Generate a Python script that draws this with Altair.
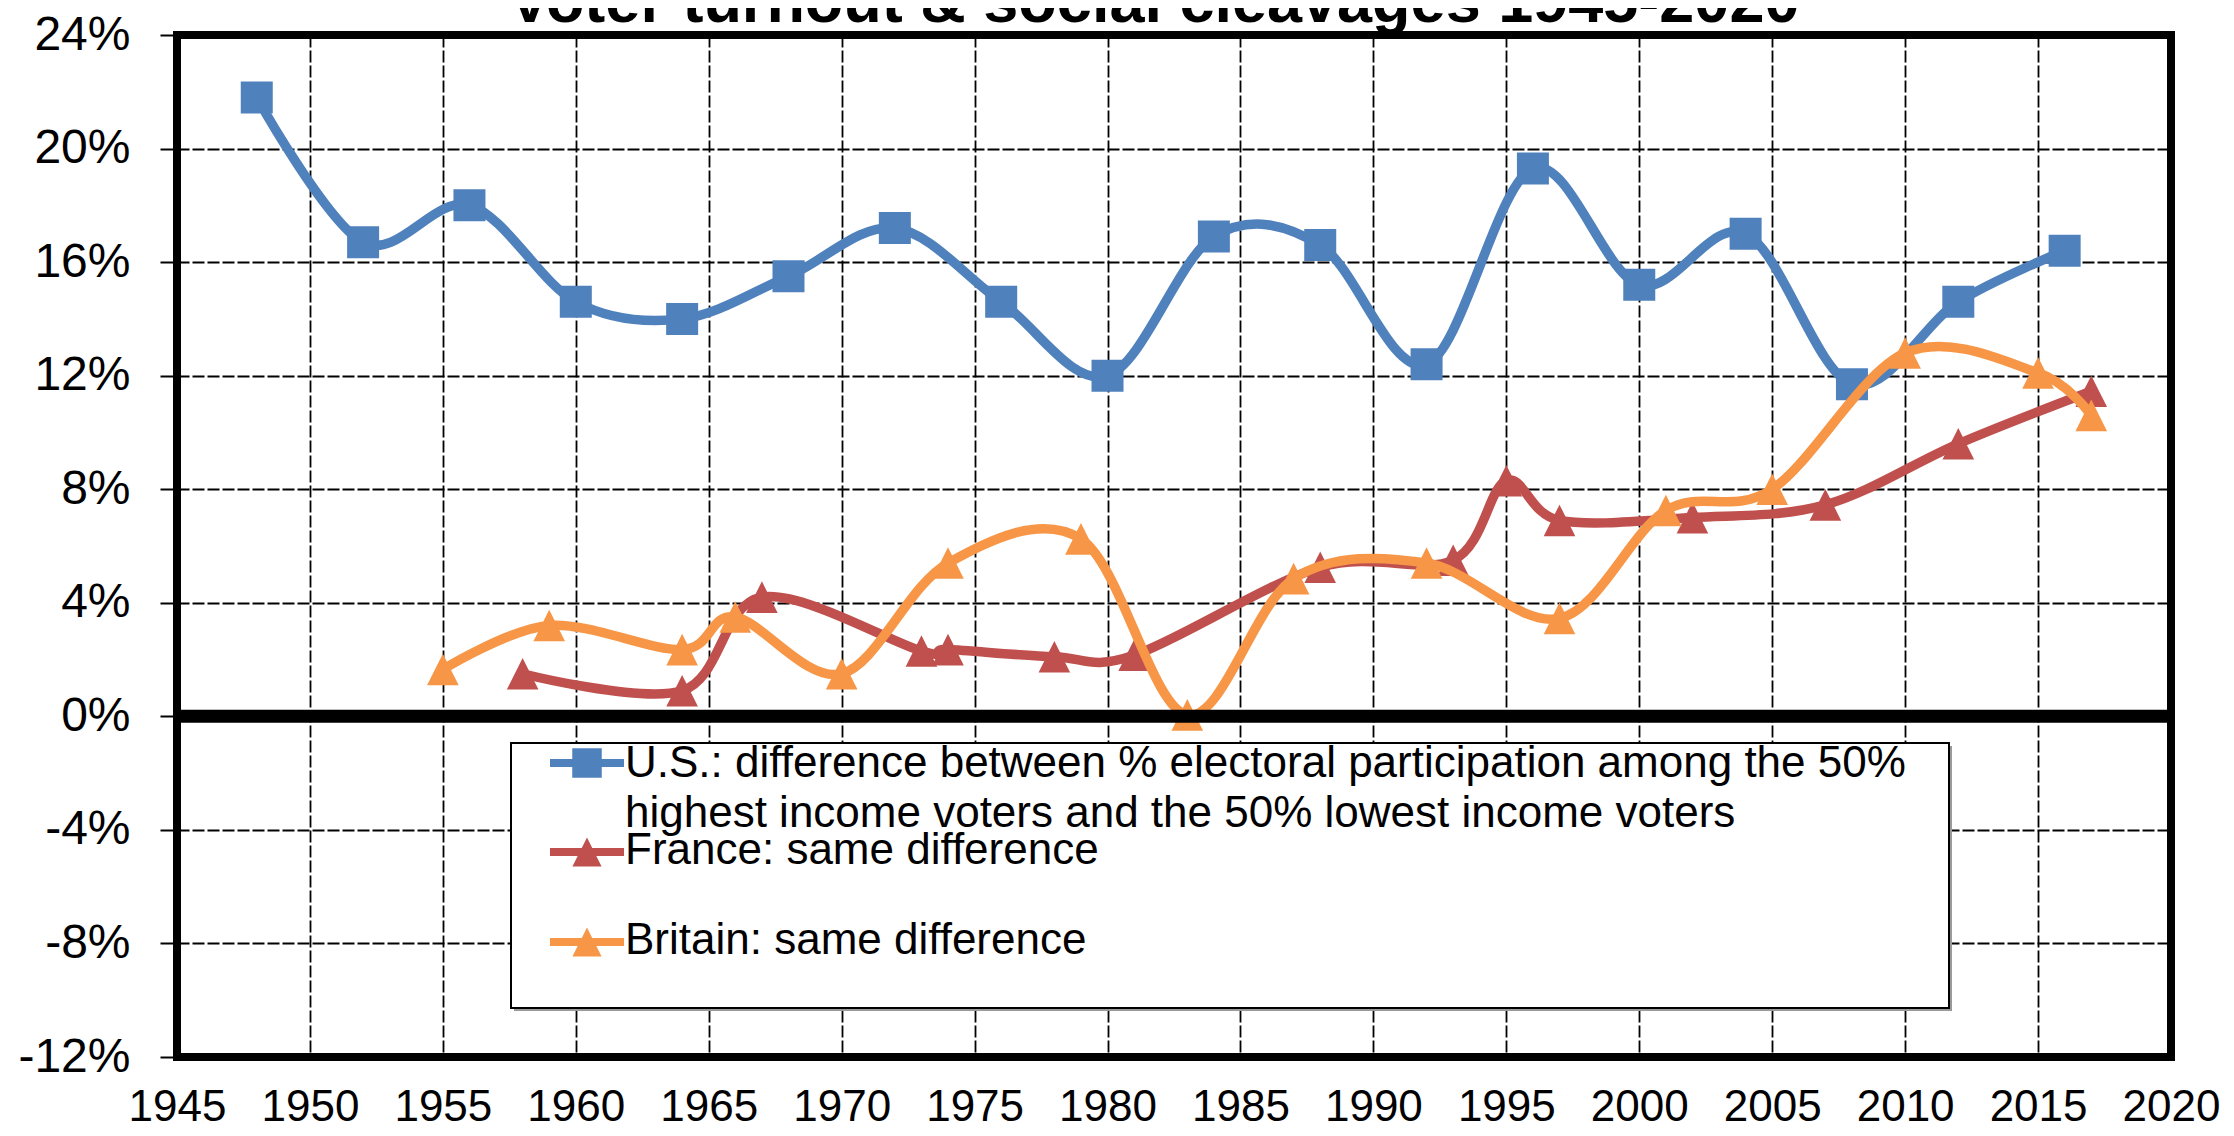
import altair as alt
import pandas as pd

# ---------------- data ----------------
series_names = ["U.S.", "France", "Britain"]
series_colors = ["#4F81BD", "#C0504D", "#F79646"]
series_shapes = ["square", "M0,-1L1,1L-1,1Z", "M0,-1L1,1L-1,1Z"]
series_sizes = [1024, 1000, 1000]

us_years = [1948, 1952, 1956, 1960, 1964, 1968, 1972, 1976, 1980,
            1984, 1988, 1992, 1996, 2000, 2004, 2008, 2012, 2016]
us_values = [21.8, 16.7, 18.0, 14.6, 14.0, 15.5, 17.2, 14.6, 12.0,
             16.9, 16.6, 12.4, 19.3, 15.2, 17.0, 11.7, 14.6, 16.4]

fr_years = [1958, 1964, 1967, 1973, 1974, 1978, 1981, 1988, 1993,
            1995, 1997, 2002, 2007, 2012, 2017]
fr_values = [1.5, 0.9, 4.2, 2.3, 2.35, 2.1, 2.15, 5.25, 5.5,
             8.3, 6.9, 7.0, 7.45, 9.6, 11.45]

gb_years = [1955, 1959, 1964, 1966, 1970, 1974, 1979, 1983, 1987,
            1992, 1997, 2001, 2005, 2010, 2015, 2017]
gb_values = [1.65, 3.2, 2.35, 3.5, 1.5, 5.4, 6.25, 0.05, 4.85,
             5.4, 3.45, 7.25, 8.0, 12.8, 12.1, 10.6]

x_ticks = list(range(1945, 2021, 5))
y_ticks = list(range(-12, 25, 4))

title_text = "Voter turnout & social cleavages 1945-2020"
legend_lines = [
    ["U.S.: difference between % electoral participation among the 50%",
     "highest income voters and the 50% lowest income voters"],
    ["France: same difference"],
    ["Britain: same difference"],
]

FONT = "Liberation Sans"

rows = []
for name, ys, vs in zip(series_names, [us_years, fr_years, gb_years],
                        [us_values, fr_values, gb_values]):
    for yr, v in zip(ys, vs):
        rows.append({"series": name, "year": yr, "value": v})
df = pd.DataFrame(rows)

x_scale = alt.Scale(domain=[1945, 2020], nice=False, zero=False)
y_scale = alt.Scale(domain=[-12, 24], nice=False, zero=False)

x_axis = alt.Axis(values=x_ticks, format="d", title=None, grid=True,
                  ticks=False, tickSize=0, labelFontSize=44, labelPadding=28,
                  labelFlush=False, labelOverlap=False, labelBound=False)
y_axis = alt.Axis(values=y_ticks, labelExpr="datum.value + '%'", title=None,
                  grid=True, ticks=True, tickSize=17, tickWidth=2,
                  tickColor="black", labelFontSize=48, labelPadding=30,
                  labelOverlap=False, labelBound=False)

layers = []
for i, (name, col, shp, sz) in enumerate(zip(series_names, series_colors,
                                              series_shapes, series_sizes)):
    base = alt.Chart(df).transform_filter(alt.datum.series == name)
    if i == 0:
        xenc = alt.X("year:Q", scale=x_scale, axis=x_axis)
        yenc = alt.Y("value:Q", scale=y_scale, axis=y_axis)
    else:
        xenc = alt.X("year:Q", scale=x_scale)
        yenc = alt.Y("value:Q", scale=y_scale)
    line = base.mark_line(interpolate="cardinal", strokeWidth=9.5, color=col,
                          strokeCap="round", strokeJoin="round").encode(
        x=xenc, y=yenc, order="year:Q")
    pts = base.mark_point(filled=True, shape=shp, size=sz, color=col,
                          opacity=1, strokeWidth=0).encode(
        x=alt.X("year:Q", scale=x_scale), y=alt.Y("value:Q", scale=y_scale))
    layers += [line, pts]

# thick zero line, drawn over the series
zero = alt.Chart(pd.DataFrame({"z": [0]})).mark_rule(
    color="black", strokeWidth=13).encode(y=alt.Y("z:Q", scale=y_scale))
layers.append(zero)

# legend box
one = pd.DataFrame({"a": [0]})
shadow = alt.Chart(one).mark_rect(fill="#9a9a9a").encode(
    x=alt.value(337), x2=alt.value(1775), y=alt.value(711), y2=alt.value(976))
box = alt.Chart(one).mark_rect(fill="white", stroke="black", strokeWidth=2).encode(
    x=alt.value(334), x2=alt.value(1772), y=alt.value(708), y2=alt.value(973))
layers += [shadow, box]

sym_y = [728, 817, 907]
text_y = [[742, 792], [829], [919]]
for name, col, shp, sz, sy, lines, tys in zip(series_names, series_colors,
                                             series_shapes, series_sizes,
                                             sym_y, legend_lines, text_y):
    d = pd.DataFrame({"series": [name]})
    layers.append(alt.Chart(d).mark_rule(color=col, strokeWidth=8).encode(
        x=alt.value(373), x2=alt.value(447), y=alt.value(sy)))
    layers.append(alt.Chart(d).mark_point(filled=True, shape=shp, size=sz * 0.85,
                                          color=col, opacity=1, strokeWidth=0).encode(
        x=alt.value(410), y=alt.value(sy)))
    for ln, ty in zip(lines, tys):
        layers.append(alt.Chart(pd.DataFrame({"t": [ln]})).mark_text(
            font=FONT, fontSize=44, color="black", align="left",
            baseline="alphabetic").encode(
            x=alt.value(448), y=alt.value(ty), text="t:N"))

# title (partly cut off at the top, as in the reference)
layers.append(alt.Chart(pd.DataFrame({"t": [title_text]})).mark_text(
    font=FONT, fontSize=63, fontWeight="bold", color="black", align="center",
    baseline="alphabetic").encode(x=alt.value(977), y=alt.value(-13), text="t:N"))

chart = alt.layer(*layers).properties(
    width=1994, height=1022,
    padding={"left": 169, "top": 27, "right": 55, "bottom": 71},
    autosize=alt.AutoSizeParams(type="none"),
).configure_view(
    stroke="black", strokeWidth=8
).configure_axis(
    domain=False, gridColor="black", gridDash=[12, 3], gridWidth=1.8,
    gridOpacity=1, labelFont=FONT, labelColor="black"
)

chart.save("out.html", embed_options={"renderer": "svg", "actions": False})
